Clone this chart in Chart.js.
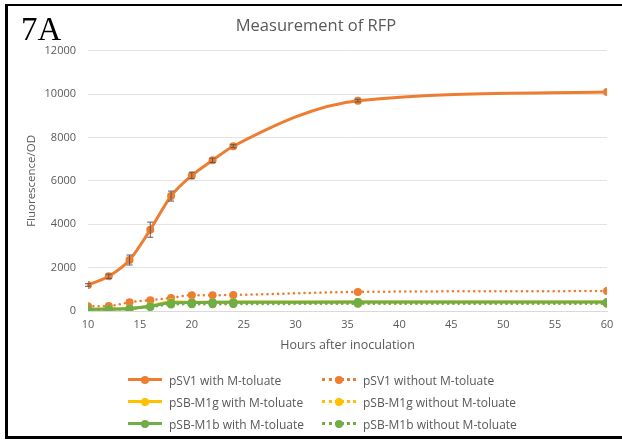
<!DOCTYPE html>
<html>
<head>
<meta charset="utf-8">
<script src="https://cdn.jsdelivr.net/npm/chart.js@4.4.0/dist/chart.umd.min.js"></script>
<style>
  html, body { margin: 0; padding: 0; background: #fff; }
  #wrap { position: relative; width: 622px; height: 441px; overflow: hidden; font-family: "Open Sans", "Noto Sans", sans-serif; }
  #frame { position: absolute; left: 5px; top: 4px; width: 700px; height: 430px; border-left: 3px solid #000; border-top: 2px solid #000; border-bottom: 3px solid #000; }
  #fig { position: absolute; left: 21px; top: 9px; font-family: "Liberation Serif", serif; font-size: 33px; color: #000; line-height: 40px; }
  canvas#chart { position: absolute; left: 0; top: 0; }
  #legend { position: absolute; left: 0; top: 370px; width: 622px; }
  .legend-item { position: absolute; height: 20px; font-size: 12px; color: #595959; white-space: nowrap; }
  .legend-line { position: absolute; left: 0; top: 8px; width: 34px; height: 0; }
  .legend-dot { position: absolute; left: 13px; top: 6px; width: 8px; height: 8px; border-radius: 50%; }
  .legend-text { position: absolute; left: 41px; top: 2px; }
</style>
</head>
<body>
<div id="wrap">
  <div id="frame"></div>
  <canvas id="chart" width="622" height="441"></canvas>
  <div id="fig">7A</div>
  <div id="legend"></div>
</div>
<script>
// 데이터
const hours = [10, 12, 14, 16, 18, 20, 22, 24, 36, 60];
const sv1With = [1200, 1600, 2350, 3750, 5300, 6250, 6950, 7600, 9700, 10100];
const sv1WithErr = [60, 100, 230, 350, 230, 150, 100, 70, 60, 0];
const sv1Without = [220, 230, 400, 500, 600, 730, 730, 740, 880, 920];
const m1gWith = [70, 90, 110, 230, 420, 400, 400, 410, 420, 420];
const m1gWithout = [60, 80, 100, 200, 320, 330, 330, 340, 350, 350];
const m1bWith = [80, 90, 120, 220, 380, 390, 400, 400, 410, 410];
const m1bWithout = [60, 70, 90, 180, 300, 310, 310, 320, 330, 330];

const seriesLabels = [
    'pSV1 with M-toluate', 'pSV1 without M-toluate',
    'pSB-M1g with M-toluate', 'pSB-M1g without M-toluate',
    'pSB-M1b with M-toluate', 'pSB-M1b without M-toluate'
];
const seriesValues = [sv1With, sv1Without, m1gWith, m1gWithout, m1bWith, m1bWithout];
const seriesColors = ['#ED7D31', '#ED7D31', '#FFC000', '#FFC000', '#70AD47', '#70AD47'];
const seriesDotted = [false, true, false, true, false, true];

const datasets = seriesValues.map((vals, i) => ({
    label: seriesLabels[i],
    data: vals.map((v, k) => ({ x: hours[k], y: v })),
    borderColor: seriesColors[i],
    backgroundColor: seriesColors[i],
    borderWidth: seriesDotted[i] ? 2.5 : 3,
    borderDash: seriesDotted[i] ? [0.1, 5.2] : [],
    borderCapStyle: 'round',
    pointRadius: 4,
    pointHoverRadius: 4,
    pointBorderWidth: 0,
    cubicInterpolationMode: 'monotone',
    order: 6 - i
}));

// 오차 막대 플러그인
const errorBars = {
    id: 'errorBars',
    afterDatasetsDraw(chart) {
        const ctx = chart.ctx;
        const xs = chart.scales.x, ys = chart.scales.y;
        ctx.save();
        ctx.strokeStyle = '#5a5a5a';
        ctx.lineWidth = 1;
        sv1With.forEach((v, k) => {
            const e = sv1WithErr[k];
            if (!e) return;
            const px = xs.getPixelForValue(hours[k]);
            const y1 = ys.getPixelForValue(v - e), y2 = ys.getPixelForValue(v + e);
            ctx.beginPath();
            ctx.moveTo(px, y1); ctx.lineTo(px, y2);
            ctx.moveTo(px - 3, y1); ctx.lineTo(px + 3, y1);
            ctx.moveTo(px - 3, y2); ctx.lineTo(px + 3, y2);
            ctx.stroke();
        });
        ctx.restore();
    }
};

const gray = '#595959';
new Chart(document.getElementById('chart'), {
    type: 'line',
    data: { datasets: datasets },
    options: {
        responsive: false,
        animation: false,
        layout: { padding: { left: 25, right: 15, top: 0, bottom: 85 } },
        plugins: {
            legend: { display: false },
            tooltip: { enabled: false },
            title: {
                display: true,
                text: 'Measurement of RFP',
                color: gray,
                font: { family: 'Open Sans', size: 16.5, weight: 'normal' },
                padding: { top: 16, bottom: 15 }
            }
        },
        scales: {
            x: {
                type: 'linear',
                min: 10, max: 60,
                afterFit: (s) => { s.height = 45; },
                ticks: { stepSize: 5, color: gray, font: { family: 'Open Sans', size: 11 }, padding: 7 },
                grid: { display: false, drawTicks: false },
                border: { color: '#d9d9d9' },
                title: { display: true, text: 'Hours after inoculation', color: gray, font: { family: 'Open Sans', size: 12.5 }, padding: { top: 0, bottom: 3 } }
            },
            y: {
                min: 0, max: 12000,
                afterFit: (s) => { s.width = 63; },
                ticks: { stepSize: 2000, color: gray, font: { family: 'Open Sans', size: 11 }, padding: 12, callback: (v) => String(v) },
                grid: { color: '#e3e3e3', drawTicks: false },
                border: { display: false },
                title: { display: true, text: 'Fluorescence/OD', color: gray, font: { family: 'Open Sans', size: 11.5 }, padding: { top: 0, bottom: 0 } }
            }
        }
    },
    plugins: [errorBars]
});

// HTML 범례
const legendBox = document.getElementById('legend');
const colX = [128, 322];
const rowY = [0, 22, 44];
seriesLabels.forEach((label, i) => {
    const item = document.createElement('div');
    item.className = 'legend-item';
    item.style.left = colX[i % 2] + 'px';
    item.style.top = rowY[Math.floor(i / 2)] + 'px';
    const line = document.createElement('div');
    line.className = 'legend-line';
    line.style.borderTop = seriesDotted[i] ? `3px dotted ${seriesColors[i]}` : `3px solid ${seriesColors[i]}`;
    const dot = document.createElement('div');
    dot.className = 'legend-dot';
    dot.style.background = seriesColors[i];
    const txt = document.createElement('span');
    txt.className = 'legend-text';
    txt.textContent = label;
    item.appendChild(line);
    item.appendChild(dot);
    item.appendChild(txt);
    legendBox.appendChild(item);
});
</script>
</body>
</html>
